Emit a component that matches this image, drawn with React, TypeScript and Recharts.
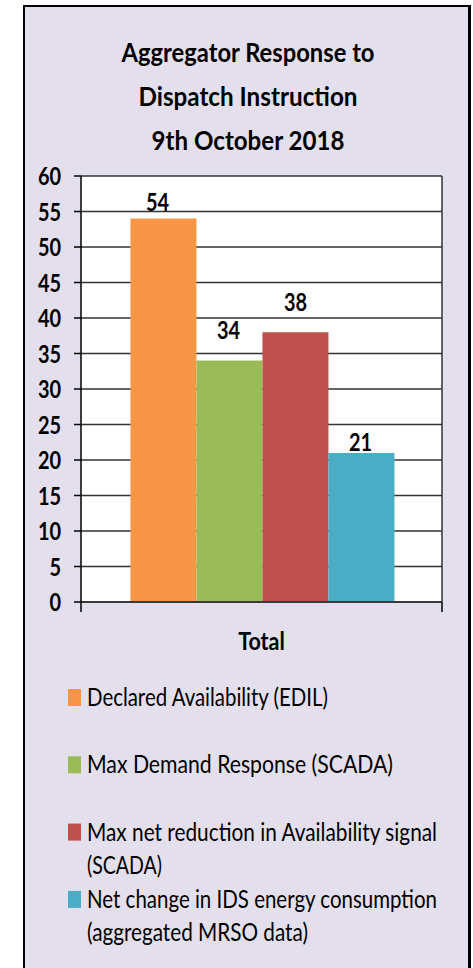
import React from 'react';
import { BarChart, Bar, XAxis, YAxis, CartesianGrid, LabelList } from 'recharts';

// ---- data ----
const categories = ['Total'];
const declaredAvailability = [54];
const maxDemandResponse = [34];
const maxNetReduction = [38];
const netChangeIds = [21];

const yTicks = [0, 5, 10, 15, 20, 25, 30, 35, 40, 45, 50, 55, 60];

const titleLines = ['Aggregator Response to', 'Dispatch Instruction', '9th October 2018'];

const seriesLabels = [
  ['Declared Availability (EDIL)'],
  ['Max Demand Response (SCADA)'],
  ['Max net reduction in Availability signal', '(SCADA)'],
  ['Net change in IDS energy consumption', '(aggregated MRSO data)'],
];

const seriesKeys = ['declared', 'demand', 'reduction', 'ids'];

// ---- styling ----
const FONT = "Lato, 'Open Sans', 'Noto Sans', sans-serif";
const BG = '#E4DFEC';
const seriesColors = ['#F79646', '#9BBB59', '#C0504D', '#4BACC6'];
// value label placement above each bar (gap to bar top, horizontal nudge)
const labelGap = [8, 22, 21, 2];
const labelDx = [-6, -1, 0, -1];

// title and legend line widths; text is set narrow and tall
const titleWidths = [253, 219, 193];
const legendWidths = [[241], [306], [350, 75], [350, 221]];

const data = categories.map((category, i) => ({
  category,
  declared: declaredAvailability[i],
  demand: maxDemandResponse[i],
  reduction: maxNetReduction[i],
  ids: netChangeIds[i],
}));

type SqProps = {
  x: number;
  y: number;
  anchor?: 'start' | 'middle' | 'end';
  size: number;
  weight?: number;
  sx?: number;
  children: React.ReactNode;
};

// Horizontally condensed text, anchored at (x, y)
function SqText({ x, y, anchor = 'middle', size, weight = 700, sx = 0.83, children }: SqProps) {
  return (
    <text
      transform={`translate(${x},${y}) scale(${sx},1)`}
      textAnchor={anchor}
      fontSize={size}
      fontWeight={weight}
      fontFamily={FONT}
      fill="#000"
    >
      {children}
    </text>
  );
}

type TallProps = {
  x: number;
  y: number;
  width: number;
  size: number;
  sy: number;
  anchor?: 'start' | 'middle' | 'end';
  weight?: number;
  children: React.ReactNode;
};

// Text fitted to a given width and stretched vertically
function TallText({ x, y, width, size, sy, anchor = 'start', weight = 400, children }: TallProps) {
  return (
    <text
      transform={`translate(${x},${y}) scale(1,${sy})`}
      textAnchor={anchor}
      fontFamily={FONT}
      fontSize={size}
      fontWeight={weight}
      textLength={width}
      lengthAdjust="spacingAndGlyphs"
      fill="#000"
    >
      {children}
    </text>
  );
}

const YTick = (p: any) => (
  <SqText x={p.x} y={p.y + 9} anchor="end" size={24}>
    {p.payload.value}
  </SqText>
);

const XTick = (p: any) => {
  const half = typeof p.width === 'number' ? p.width / 2 : 0;
  return (
    <g>
      {half > 0 && (
        <>
          <line x1={p.x - half} x2={p.x - half} y1={p.y} y2={p.y + 10} stroke="#000" strokeWidth={1.5} />
          <line x1={p.x + half} x2={p.x + half} y1={p.y} y2={p.y + 10} stroke="#000" strokeWidth={1.5} />
        </>
      )}
      <SqText x={p.x} y={p.y + 48} size={25} sx={0.86}>
        {p.payload.value}
      </SqText>
    </g>
  );
};

const makeLabel = (i: number) => (p: any) => (
  <SqText x={p.x + p.width / 2 + labelDx[i]} y={p.y - labelGap[i]} size={24}>
    {p.value}
  </SqText>
);

export default function App() {
  return (
    <div style={{ position: 'absolute', left: 0, top: 0, width: 473, height: 968, overflow: 'hidden', background: '#fff' }}>
      {/* chart frame */}
      <div
        style={{
          position: 'absolute',
          left: 23,
          top: 5,
          width: 448,
          height: 990,
          boxSizing: 'border-box',
          border: '2px solid #000',
          borderRightWidth: 3,
          background: BG,
        }}
      />

      {/* title */}
      <svg width={473} height={170} style={{ position: 'absolute', left: 0, top: 0 }}>
        {titleLines.map((line, i) => (
          <TallText
            key={line}
            x={248}
            y={62 + i * 44}
            width={titleWidths[i]}
            size={24}
            sy={1.1}
            anchor="middle"
            weight={700}
          >
            {line}
          </TallText>
        ))}
      </svg>

      <BarChart
        width={473}
        height={968}
        data={data}
        margin={{ top: 176, right: 31, bottom: 306, left: 21 }}
        barCategoryGap="13.7%"
        barGap={0}
        style={{ position: 'absolute', left: 0, top: 0 }}
      >
        <CartesianGrid
          fill="#fff"
          stroke="#333"
          strokeWidth={1.5}
          verticalCoordinatesGenerator={({ offset }: any) => [offset.left + offset.width]}
        />
        <XAxis
          dataKey="category"
          height={60}
          tickLine={false}
          tickSize={0}
          tickMargin={0}
          axisLine={{ stroke: '#3a3a3a', strokeWidth: 2 }}
          tick={XTick}
          interval={0}
        />
        <YAxis
          width={60}
          domain={[0, 60]}
          ticks={yTicks}
          interval={0}
          tickSize={7}
          tickMargin={13}
          tickLine={{ stroke: '#000', strokeWidth: 1.5 }}
          axisLine={{ stroke: '#000', strokeWidth: 1.5 }}
          tick={YTick}
        />
        {seriesKeys.map((key, i) => (
          <Bar
            key={key}
            dataKey={key}
            name={seriesLabels[i].join(' ')}
            fill={seriesColors[i]}
            isAnimationActive={false}
          >
            <LabelList dataKey={key} position="top" content={makeLabel(i)} />
          </Bar>
        ))}
      </BarChart>

      {/* legend */}
      <svg width={473} height={300} style={{ position: 'absolute', left: 0, top: 668 }}>
        {seriesLabels.map((lines, i) => {
          const base = 38 + i * 67.3;
          return (
            <g key={seriesKeys[i]}>
              <rect x={68} y={base - 17} width={13} height={17} fill={seriesColors[i]} />
              {lines.map((line, j) => (
                <TallText key={line} x={87} y={base + j * 33} width={legendWidths[i][j]} size={22} sy={1.18}>
                  {line}
                </TallText>
              ))}
            </g>
          );
        })}
      </svg>
    </div>
  );
}
